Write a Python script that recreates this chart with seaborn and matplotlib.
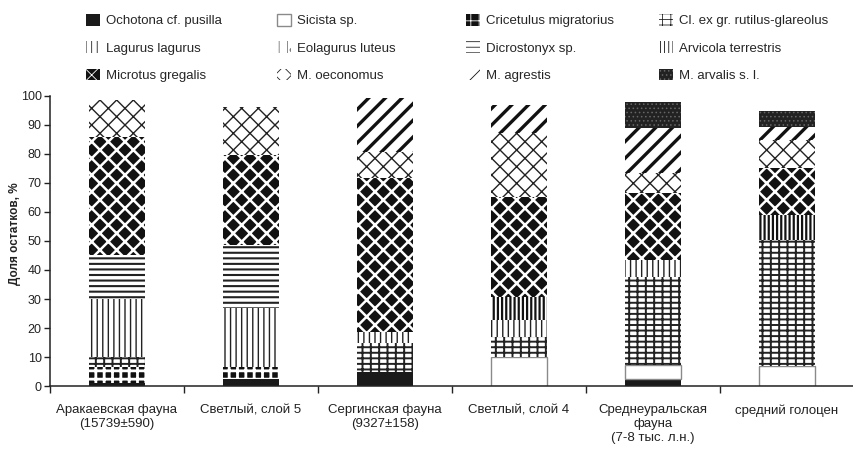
import numpy as np
import pandas as pd
import seaborn as sns
import matplotlib.pyplot as plt
from matplotlib.patches import Patch

# categories (sites) and per-species share of remains, %
sites = ['Аракаевская фауна\n(15739±590)', 'Светлый, слой 5', 'Сергинская фауна\n(9327±158)',
         'Светлый, слой 4', 'Среднеуральская\nфауна\n(7-8 тыс. л.н.)', 'средний голоцен']

ochotona = [1.0, 2.3, 4.9, 0, 2.6, 0]
sicista = [0, 0, 0, 10.1, 4.6, 6.9]
cricetulus = [5.7, 4.4, 0, 0, 0, 0]
clethrionomys = [3.4, 0, 9.8, 6.9, 30.5, 43.4]
lagurus = [20.0, 20.1, 4.0, 5.8, 5.7, 0]
eolagurus = [0, 0, 0, 0, 0, 0]
dicrostonyx = [15.0, 21.8, 0, 0, 0, 0]
arvicola = [0, 0, 0, 8.0, 0, 8.7]
gregalis = [40.8, 31.1, 52.9, 34.5, 23.0, 16.1]
oeconomus = [12.6, 16.6, 9.2, 21.8, 6.9, 9.7]
agrestis = [0, 0, 18.4, 9.8, 15.6, 4.6]
arvalis = [0, 0, 0, 0, 9.1, 5.5]

species = ['Ochotona cf. pusilla', 'Sicista sp.', 'Cricetulus migratorius', 'Cl. ex gr. rutilus-glareolus',
           'Lagurus lagurus', 'Eolagurus luteus', 'Dicrostonyx sp.', 'Arvicola terrestris',
           'Microtus gregalis', 'M. oeconomus', 'M. agrestis', 'M. arvalis s. l.']
values = [ochotona, sicista, cricetulus, clethrionomys, lagurus, eolagurus,
          dicrostonyx, arvicola, gregalis, oeconomus, agrestis, arvalis]

# face, hatch colour, hatch, hatch width, edge width
styles = [
    ('#1a1a1a', '#1a1a1a', None, 1.0, 0.0),
    ('white', '#8a8a8a', None, 1.0, 1.0),
    ('#111111', 'white', '++', 2.0, 0.0),
    ('white', '#222222', '---||', 1.4, 0.0),
    ('white', '#222222', '|||', 1.0, 0.0),
    ('white', '#777777', '||.', 1.0, 0.0),
    ('white', '#222222', '---', 1.5, 0.0),
    ('white', '#111111', '||||', 1.6, 0.0),
    ('#111111', 'white', 'xx', 1.8, 0.0),
    ('white', '#222222', 'xx', 1.0, 0.0),
    ('white', '#111111', '//', 2.4, 0.0),
    ('#222222', '#666666', '....', 0.6, 0.0),
]

sns.set_style('ticks')
plt.rcParams['font.family'] = ['Liberation Sans', 'DejaVu Sans']

fig, ax = plt.subplots(figsize=(8.54, 4.5), dpi=100)
fig.subplots_adjust(left=0.0585, right=1.0, bottom=0.142, top=0.787)

bottom = np.zeros(len(sites))
handles = []
for name, vals, (face, ec, hatch, hlw, lw) in zip(species, values, styles):
    plt.rcParams['hatch.linewidth'] = hlw
    sns.barplot(x=sites, y=vals, order=sites, color=face, saturation=1, errorbar=None,
                width=0.42, bottom=bottom, hatch=hatch, edgecolor=ec, linewidth=lw, ax=ax)
    cont = ax.containers[-1]
    for p, v in zip(cont.patches, vals):
        if hasattr(p, 'set_hatch_linewidth'):
            p.set_hatch_linewidth(hlw)
        if v == 0:
            p.set_linewidth(0)
    h = Patch(facecolor=face, edgecolor=ec, hatch=hatch, linewidth=lw)
    if hasattr(h, 'set_hatch_linewidth'):
        h.set_hatch_linewidth(hlw)
    handles.append(h)
    bottom += np.array(vals)

ax.set_ylim(0, 100)
ax.set_xlim(-0.5, 5.5)
ax.set_yticks(np.arange(0, 101, 10))
ax.tick_params(axis='y', length=4, width=1, labelsize=9, pad=2, colors='#222222')
ax.set_xticks(np.arange(-0.5, 6, 1), minor=True)
ax.tick_params(axis='x', which='major', length=0, labelsize=9.5, pad=13, colors='#222222')
ax.tick_params(axis='x', which='minor', length=5, width=1, colors='#222222')
for s in ['top', 'right']:
    ax.spines[s].set_visible(False)
for s in ['left', 'bottom']:
    ax.spines[s].set_color('#222222')
    ax.spines[s].set_linewidth(1.1)
ax.set_xlabel('')
ax.set_ylabel('Доля остатков, %', fontsize=8.5, fontweight='bold', color='#222222')
ax.yaxis.set_label_coords(-0.036, 0.525)

# legend: four columns, placed one by one
col_x = [86, 277, 466, 659]
for j, x in enumerate(col_x):
    idx = [j, j + 4, j + 8]
    fig.legend([handles[i] for i in idx], [species[i] for i in idx], loc='upper left',
               bbox_to_anchor=(x / 854, 1 - 14 / 450), frameon=False, fontsize=9.5,
               borderpad=0, borderaxespad=0, handlelength=1.05, handleheight=1.0,
               handletextpad=0.5, labelspacing=1.05)

plt.savefig('out.png', dpi=100)
